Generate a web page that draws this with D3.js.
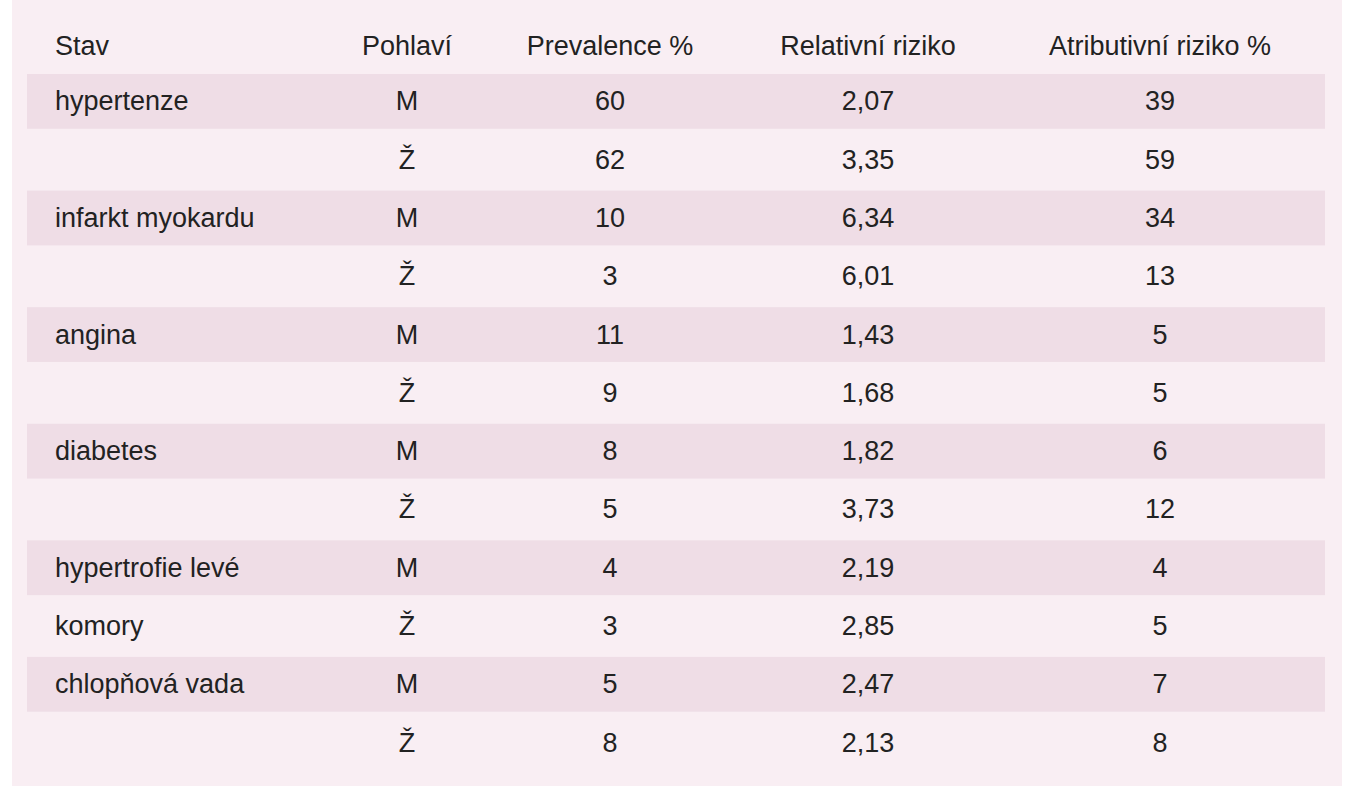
<!DOCTYPE html><html><head><meta charset="utf-8"><script src="https://cdn.jsdelivr.net/npm/d3@7"></script>
<style>body{margin:0;background:#fff}</style></head><body><svg id="c" width="1354" height="800"></svg>
<script>
const headers=["Stav","Pohlaví","Prevalence %","Relativní riziko","Atributivní riziko %"];
const stav=["hypertenze","","infarkt myokardu","","angina","","diabetes","","hypertrofie levé","komory","chlopňová vada",""];
const pohlavi=["M","Ž","M","Ž","M","Ž","M","Ž","M","Ž","M","Ž"];
const prevalence=["60","62","10","3","11","9","8","5","4","3","5","8"];
const relativni=["2,07","3,35","6,34","6,01","1,43","1,68","1,82","3,73","2,19","2,85","2,47","2,13"];
const atributivni=["39","59","34","13","5","5","6","12","4","5","7","8"];
const svg=d3.select("#c");
svg.append("rect").attr("x",12).attr("y",0).attr("width",1330).attr("height",786).attr("fill","#f9eef3");
const y=d3.scaleBand().domain(d3.range(12)).range([74,770]).paddingInner(0.06);
const rows=d3.range(12);
svg.selectAll("rect.band").data(rows.filter(i=>i%2==0)).join("rect").attr("x",27).attr("width",1298)
 .attr("y",i=>y(i)).attr("height",y.bandwidth()).attr("fill","#efdde6");
const cols=[{x:55,a:"start"},{x:407,a:"middle"},{x:610,a:"middle"},{x:868,a:"middle"},{x:1160,a:"middle"}];
const font="'Liberation Sans',Arial,sans-serif";
svg.selectAll("text.h").data(headers).join("text").attr("x",(d,i)=>cols[i].x).attr("y",46).attr("text-anchor",(d,i)=>cols[i].a)
 .attr("dominant-baseline","central").attr("font-family",font).attr("font-size",27).attr("fill","#222").text(d=>d);
const data=[stav,pohlavi,prevalence,relativni,atributivni];
data.forEach((arr,ci)=>{
 svg.selectAll("text.c"+ci).data(arr).join("text").attr("x",cols[ci].x).attr("y",(d,i)=>y(i)+y.bandwidth()/2)
  .attr("text-anchor",cols[ci].a).attr("dominant-baseline","central").attr("font-family",font).attr("font-size",27).attr("fill","#222").text(d=>d);
});
</script></body></html>
